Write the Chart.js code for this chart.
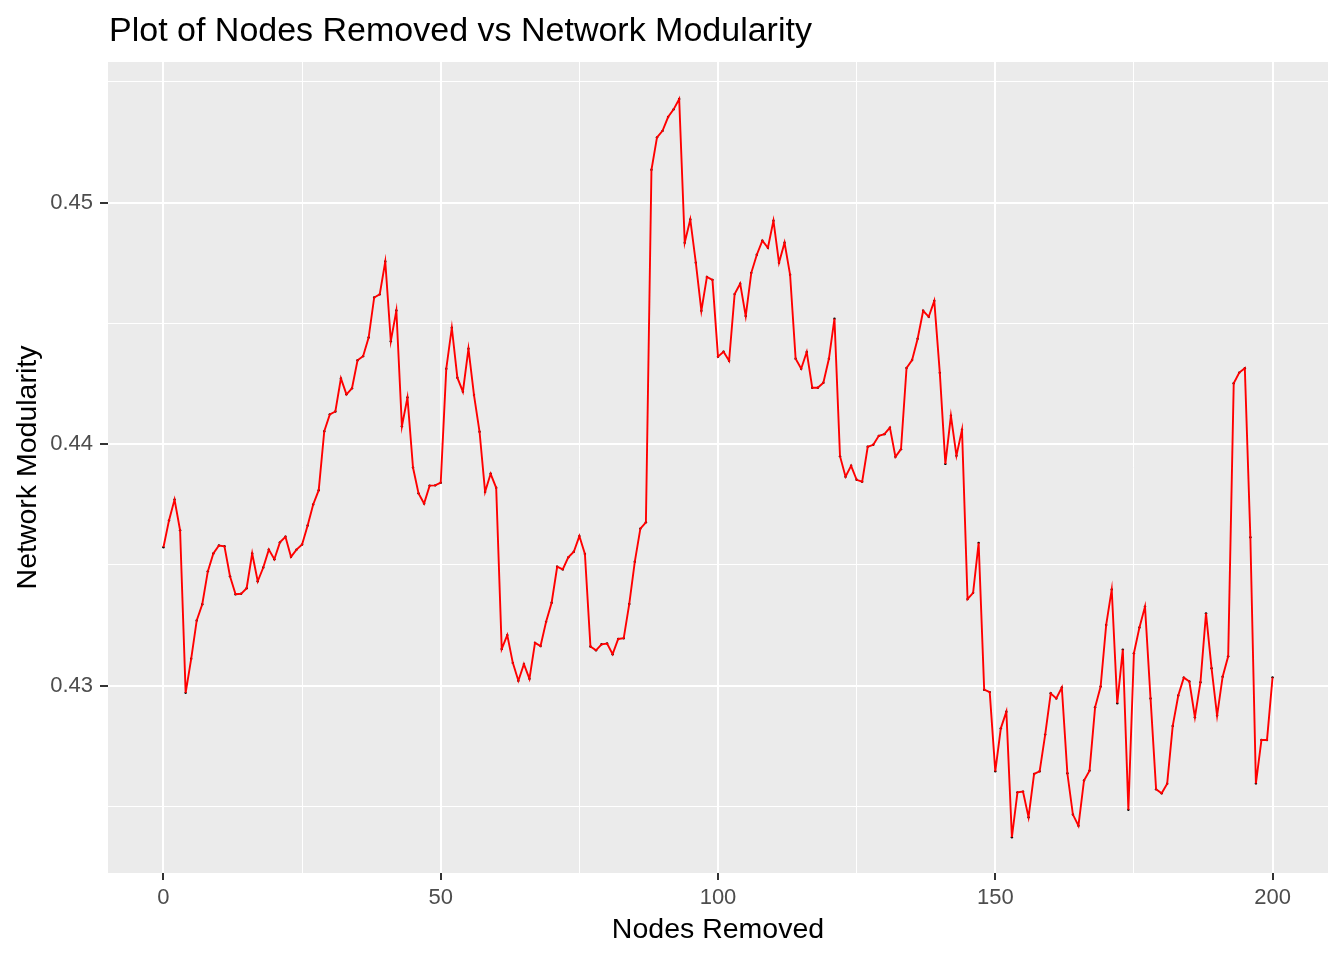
<!DOCTYPE html>
<html lang="en">
  <head>
    <meta charset="UTF-8" />
    <title>Plot of Nodes Removed vs Network Modularity</title>
    <script src="https://cdn.jsdelivr.net/npm/chart.js"></script>
    <style>
      body {
        margin: 0;
        padding: 0;
        background: #ffffff;
      }
      canvas {
        display: block;
      }
    </style>
  </head>
  <body>
    <canvas id="chart" width="1344" height="960"></canvas>

    <script>
      // network modularity after removing 0..200 nodes
      const modularity = [
        0.43573, 0.43684, 0.4377, 0.43643, 0.4297, 0.43111, 0.4327, 0.43337, 0.43473, 0.43547,
        0.4358, 0.43577, 0.43453, 0.43378, 0.4338, 0.43403, 0.43547, 0.43432, 0.43489, 0.43563,
        0.43523, 0.43593, 0.43616, 0.43533, 0.43563, 0.43584, 0.43663, 0.4375, 0.43809, 0.44053,
        0.44123, 0.44135, 0.44272, 0.44206, 0.44231, 0.44347, 0.44364, 0.44441, 0.44607, 0.4462,
        0.44756, 0.44426, 0.44553, 0.44074, 0.44193, 0.43903, 0.43796, 0.43754, 0.43828, 0.43829,
        0.4384, 0.44312, 0.44482, 0.44275, 0.44217, 0.44395, 0.44203, 0.44051, 0.43802, 0.43877,
        0.43819, 0.43152, 0.43209, 0.43094, 0.4302, 0.43089, 0.43028, 0.43177, 0.43164, 0.43264,
        0.43343, 0.43492, 0.43481, 0.43531, 0.43554, 0.43619, 0.43545, 0.43162, 0.43146, 0.43171,
        0.43174, 0.4313, 0.43193, 0.43196, 0.43338, 0.43513, 0.4365, 0.43676, 0.45136, 0.4527,
        0.45297, 0.45354, 0.45386, 0.45429, 0.44834, 0.4493, 0.44751, 0.44552, 0.44692, 0.4468,
        0.44362, 0.44382, 0.44345, 0.44621, 0.44664, 0.4453, 0.44709, 0.44784, 0.44842, 0.44813,
        0.44925, 0.44751, 0.44834, 0.44701, 0.44353, 0.44312, 0.44381, 0.44233, 0.44233, 0.44254,
        0.44353, 0.44519, 0.4395, 0.43865, 0.4391, 0.43852, 0.43844, 0.43989, 0.43997, 0.44034,
        0.44041, 0.44068, 0.43947, 0.43979, 0.44315, 0.44348, 0.44436, 0.44552, 0.44527, 0.44593,
        0.44295, 0.43918, 0.44117, 0.43952, 0.44059, 0.43358, 0.43384, 0.43591, 0.42983, 0.42973,
        0.42645, 0.42823, 0.42892, 0.42372, 0.42558, 0.42561, 0.42455, 0.42634, 0.42645, 0.42797,
        0.42968, 0.42947, 0.42992, 0.42637, 0.42466, 0.4242, 0.42607, 0.42648, 0.4291, 0.42996,
        0.43251, 0.43398, 0.42927, 0.43149, 0.42486, 0.43134, 0.43241, 0.43327, 0.42947, 0.42571,
        0.42554, 0.42594, 0.42833, 0.42959, 0.43033, 0.43017, 0.42869, 0.43014, 0.43299, 0.43072,
        0.42876, 0.43037, 0.43121, 0.44252, 0.44296, 0.44314, 0.43614, 0.42595, 0.42775, 0.42775,
        0.43034,
      ];
      const nodesRemoved = modularity.map((_, i) => i);

      const xMajorTicks = [0, 50, 100, 150, 200];
      const xMinorTicks = [25, 75, 125, 175];
      const yMajorTicks = [0.43, 0.44, 0.45];
      const yMinorTicks = [0.425, 0.435, 0.445, 0.455];

      const points = nodesRemoved.map((x, i) => ({ x, y: modularity[i] }));

      const isMajor = (list, v) => list.some((m) => Math.abs(m - v) < 1e-9);
      const font = 'Liberation Sans, Arial, sans-serif';

      // grey panel like ggplot's theme_grey
      const panelBg = {
        id: 'panelBg',
        beforeDraw(chart) {
          const { ctx, chartArea: a } = chart;
          ctx.save();
          ctx.fillStyle = '#EBEBEB';
          ctx.fillRect(a.left, a.top, a.right - a.left, a.bottom - a.top);
          ctx.restore();
        },
      };

      const plotTitle = {
        id: 'plotTitle',
        afterDraw(chart) {
          const { ctx, chartArea: a } = chart;
          ctx.save();
          ctx.font = '34px ' + font;
          ctx.fillStyle = '#000000';
          ctx.textBaseline = 'alphabetic';
          ctx.textAlign = 'left';
          ctx.fillText('Plot of Nodes Removed vs Network Modularity', a.left + 1, 41);
          ctx.restore();
        },
      };

      new Chart(document.getElementById('chart'), {
        type: 'line',
        data: {
          datasets: [
            {
              data: points,
              borderColor: '#FF0000',
              borderWidth: 1.9,
              pointRadius: 0,
              tension: 0,
              order: 0,
            },
            {
              data: points,
              showLine: false,
              pointRadius: 1.2,
              pointBorderWidth: 0,
              pointBackgroundColor: '#000000',
              order: 1,
            },
          ],
        },
        options: {
          responsive: false,
          animation: false,
          devicePixelRatio: 1,
          layout: { padding: { top: 62, right: 16, bottom: 0, left: 0 } },
          plugins: {
            legend: { display: false },
            tooltip: { enabled: false },
          },
          scales: {
            x: {
              type: 'linear',
              min: -10,
              max: 210,
              afterFit: (s) => {
                s.height = 87;
              },
              afterBuildTicks: (s) => {
                s.ticks = [...xMajorTicks, ...xMinorTicks]
                  .sort((a, b) => a - b)
                  .map((v) => ({ value: v }));
              },
              border: { display: false },
              grid: {
                color: '#FFFFFF',
                lineWidth: (c) => (isMajor(xMajorTicks, c.tick.value) ? 2 : 1),
                tickColor: (c) => (isMajor(xMajorTicks, c.tick.value) ? '#333333' : 'rgba(0,0,0,0)'),
                tickWidth: 2,
                tickLength: 7,
              },
              ticks: {
                autoSkip: false,
                maxRotation: 0,
                padding: 5,
                color: '#4D4D4D',
                font: { family: font, size: 22 },
                callback: (v) => (isMajor(xMajorTicks, v) ? String(v) : ''),
              },
              title: {
                display: true,
                text: 'Nodes Removed',
                color: '#000000',
                font: { family: font, size: 28.5 },
                padding: { top: 0, bottom: 13 },
              },
            },
            y: {
              type: 'linear',
              min: 0.42224,
              max: 0.45582,
              afterFit: (s) => {
                s.width = 108;
              },
              afterBuildTicks: (s) => {
                s.ticks = [...yMajorTicks, ...yMinorTicks]
                  .sort((a, b) => a - b)
                  .map((v) => ({ value: v }));
              },
              border: { display: false },
              grid: {
                color: '#FFFFFF',
                lineWidth: (c) => (isMajor(yMajorTicks, c.tick.value) ? 2 : 1),
                tickColor: (c) => (isMajor(yMajorTicks, c.tick.value) ? '#333333' : 'rgba(0,0,0,0)'),
                tickWidth: 2,
                tickLength: 8,
              },
              ticks: {
                autoSkip: false,
                padding: 7,
                color: '#4D4D4D',
                font: { family: font, size: 22 },
                callback: (v) => (isMajor(yMajorTicks, v) ? String(Number(v.toFixed(2))) : ''),
              },
              title: {
                display: true,
                text: 'Network Modularity',
                color: '#000000',
                font: { family: font, size: 28.5 },
                padding: { top: 11, bottom: 0 },
              },
            },
          },
        },
        plugins: [panelBg, plotTitle],
      });
    </script>
  </body>
</html>
